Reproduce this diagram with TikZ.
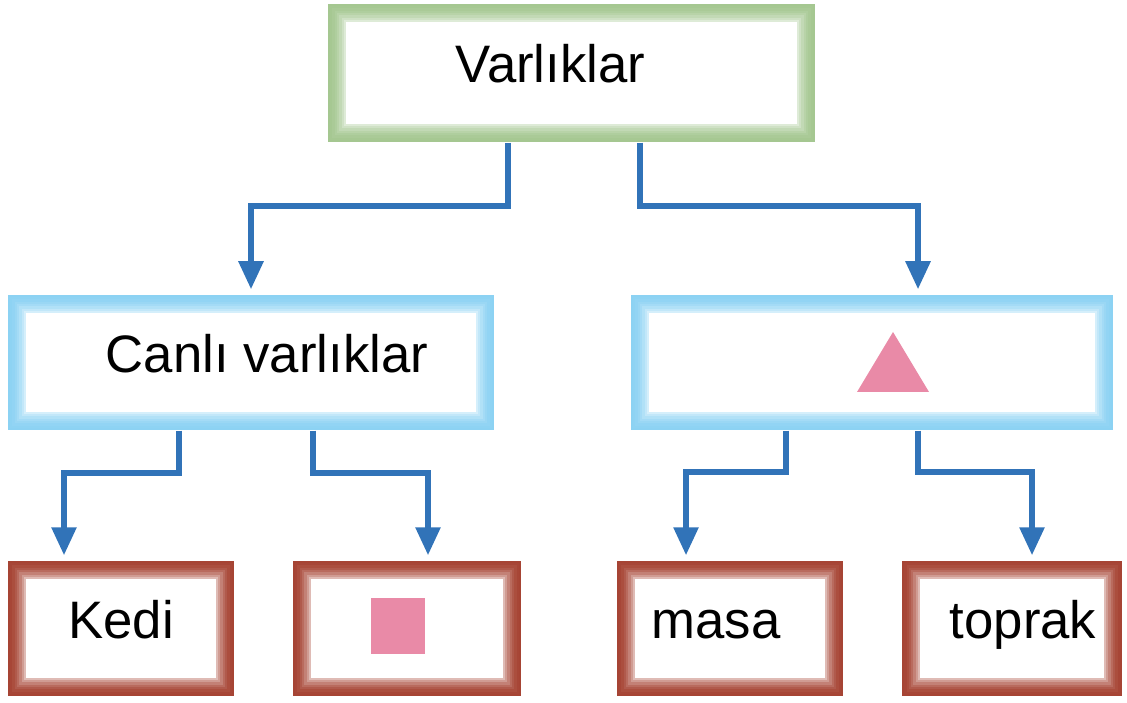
\documentclass[tikz,border=0pt]{standalone}
\usepackage{fontspec}
\setmainfont{Liberation Sans}
\usetikzlibrary{arrows.meta}

\definecolor{framegreen}{RGB}{165,199,145}
\definecolor{frameblue}{RGB}{140,210,243}
\definecolor{framebrown}{RGB}{166,68,52}
\definecolor{linkblue}{RGB}{49,115,184}
\definecolor{markpink}{RGB}{233,138,167}

\tikzset{
    framed/.style={draw=none, fill=white, inner sep=0pt,
        minimum height=1.35cm, text height=0.75em, text depth=0.2em,
        font=\fontsize{15}{18}\selectfont,
        path picture={
            \foreach \kRing in {0, ..., 7}{
                \pgfmathsetmacro\kFade{100-1.3*\kRing*\kRing}
                \draw[#1!\kFade!white, line width=0.7pt]
                    ([shift={(0.325pt+\kRing*0.65pt,0.325pt+\kRing*0.65pt)}]path picture bounding box.south west)
                    rectangle
                    ([shift={(-0.325pt-\kRing*0.65pt,-0.325pt-\kRing*0.65pt)}]path picture bounding box.north east);
            }
        }},
    link/.style={draw=linkblue, line width=1.7pt,
        -{Triangle[width=6.8pt, length=8pt]}, shorten >=1.4pt}
}

\begin{document}
\begin{tikzpicture}
    \useasboundingbox (0, 0) rectangle (11.27, 7.02);

    % boxes
    \node[framed=framegreen, minimum width=4.87cm, minimum height=1.38cm] (varliklar) at (5.715, 6.29) {Varlıklar\hspace*{0.42cm}};
    \node[framed=frameblue, minimum width=4.86cm] (canli) at (2.51, 3.395) {\hspace*{0.32cm}Canlı varlıklar};
    \node[framed=frameblue, minimum width=4.82cm] (cansiz) at (8.72, 3.395) {};
    \node[framed=framebrown, minimum width=2.26cm] (kedi) at (1.21, 0.735) {Kedi};
    \node[framed=framebrown, minimum width=2.28cm] (kare) at (4.07, 0.735) {};
    \node[framed=framebrown, minimum width=2.26cm] (masa) at (7.30, 0.735) {masa\hspace*{0.28cm}};
    \node[framed=framebrown, minimum width=2.20cm] (toprak) at (10.12, 0.735) {\hspace*{0.22cm}toprak};

    % pink marks
    \fill[markpink] ([shift={(-0.15,-0.295)}]cansiz.center) -- ([shift={(0.57,-0.295)}]cansiz.center)
        -- ([shift={(0.21,0.305)}]cansiz.center) -- cycle;
    \fill[markpink] ([shift={(-0.36,-0.255)}]kare.center) rectangle ([shift={(0.18,0.305)}]kare.center);

    % links
    \draw[link] ([xshift=-0.635cm]varliklar.south) -- ++(0, -0.63) -| (canli.north);
    \draw[link] ([xshift=0.685cm]varliklar.south) -- ++(0, -0.63) -| ([xshift=0.46cm]cansiz.north);
    \draw[link] ([xshift=-0.72cm]canli.south) -- ++(0, -0.42) -| ([xshift=-0.57cm]kedi.north);
    \draw[link] ([xshift=0.62cm]canli.south) -- ++(0, -0.42) -| ([xshift=0.21cm]kare.north);
    \draw[link] ([xshift=-0.86cm]cansiz.south) -- ++(0, -0.41) -| ([xshift=-0.44cm]masa.north);
    \draw[link] ([xshift=0.46cm]cansiz.south) -- ++(0, -0.41) -| ([xshift=0.20cm]toprak.north);
\end{tikzpicture}
\end{document}
